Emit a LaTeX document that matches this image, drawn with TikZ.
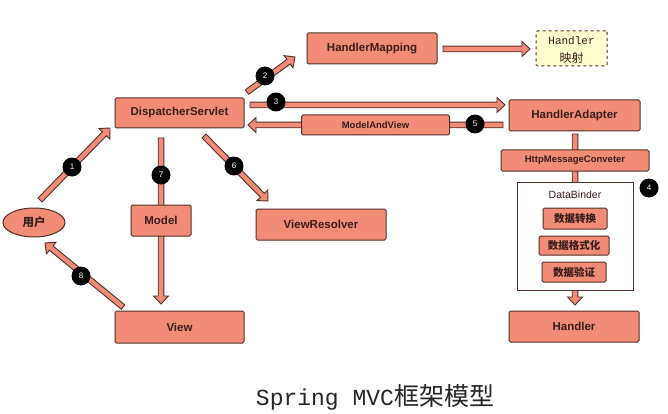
\documentclass[tikz,border=0pt]{standalone}
\usepackage{fontspec}
\setmainfont{Liberation Sans}
\newfontfamily\cjk{Noto Sans CJK SC}
\newfontfamily\monof{Liberation Mono}
\usetikzlibrary{calc,shapes.geometric}
\definecolor{boxfill}{RGB}{243,140,118}
\definecolor{edge}{RGB}{80,48,40}
\definecolor{txt}{RGB}{55,30,28}
\definecolor{hfill}{RGB}{255,255,208}
\def\arrw{2.8pt}
\def\arrW{7.5pt}
\def\arrl{8pt}
\tikzset{
  box/.style={draw=edge, line width=1pt, fill=boxfill, rounded corners=1.5pt, text=txt,
    inner sep=0pt, font=\bfseries\fontsize{11.5}{13}\selectfont},
  smallbox/.style={box, font=\bfseries\fontsize{9.5}{11}\selectfont},
  cjkbox/.style={box, font=\cjk\bfseries\fontsize{10.5}{12}\selectfont},
  num/.style={circle, fill=black, text=white, minimum size=19pt, inner sep=0pt,
    font=\fontsize{8}{9}\selectfont},
  blk/.style={draw=edge, line width=0.9pt, fill=boxfill, line join=miter,
    to path={let \p1=(\tikztostart), \p2=(\tikztotarget),
      \n1={atan2(\y2-\y1,\x2-\x1)} in
      ($(\p1)+(\n1+90:\arrw)$)
      -- ($(\p2)+(\n1+180:\arrl)+(\n1+90:\arrw)$)
      -- ($(\p2)+(\n1+180:\arrl)+(\n1+90:\arrW)$)
      -- (\p2)
      -- ($(\p2)+(\n1+180:\arrl)+(\n1-90:\arrW)$)
      -- ($(\p2)+(\n1+180:\arrl)+(\n1-90:\arrw)$)
      -- ($(\p1)+(\n1-90:\arrw)$) -- cycle}}
}
\begin{document}
\begin{tikzpicture}[x=1pt,y=-1pt]
\useasboundingbox[fill=white] (0,0) rectangle (668,414);

% arrow end points
\coordinate (a1s) at (40,200);   \coordinate (a1e) at (110,128);
\coordinate (a2s) at (247,92);   \coordinate (a2e) at (295,57);
\coordinate (a3s) at (250,105);  \coordinate (a3e) at (505,105);
\coordinate (a5s) at (503,125);  \coordinate (a5e) at (248,125);
\coordinate (ams) at (443,49);   \coordinate (ame) at (530,49);
\coordinate (a7s) at (161,138);  \coordinate (a7e) at (161,304);
\coordinate (a6s) at (204,136);  \coordinate (a6e) at (268,201);
\coordinate (a8s) at (123,307);  \coordinate (a8e) at (45,243);
\coordinate (a4s) at (575,134);  \coordinate (a4e) at (575,305);

% arrows (drawn first, boxes cover them)
\draw[blk] (a1s) to (a1e);
\draw[blk] (a2s) to (a2e);
\draw[blk] (a3s) to (a3e);
\draw[blk] (a5s) to (a5e);
\draw[blk] (ams) to (ame);
\draw[blk] (a7s) to (a7e);
\draw[blk] (a6s) to (a6e);
\draw[blk] (a8s) to (a8e);
\draw[blk] (a4s) to (a4e);

% nodes
\node[box, minimum width=129pt, minimum height=30pt] (ds) at (179.5,113) {DispatcherServlet};
\node[box, minimum width=130pt, minimum height=31pt] (hm) at (372,48.5) {HandlerMapping};
\node[draw=edge, line width=1pt, dashed, fill=hfill, rounded corners=1.5pt,
      minimum width=71pt, minimum height=35pt, inner sep=0pt] (hmap) at (571.5,48.5) {};
\node[text=txt, font=\monof\fontsize{11}{13}\selectfont, inner sep=0pt] (hmap1) at (571.5,41) {Handler};
\node[text=txt, font=\cjk\fontsize{12}{14}\selectfont, inner sep=0pt] (hmap2) at (571.5,57.5) {映射};
\node[box, minimum width=131pt, minimum height=31pt] (ha) at (574.5,115.5) {HandlerAdapter};
\node[smallbox, minimum width=148pt, minimum height=20pt] (mav) at (375.5,125) {ModelAndView};
\node[smallbox, minimum width=148pt, minimum height=21pt] (hmc) at (575,160.5) {HttpMessageConveter};
\node[draw=edge, line width=1pt, fill=white, minimum width=116pt, minimum height=108pt,
      inner sep=0pt] (db) at (575,236) {};
\node[text=txt, font=\fontsize{10.5}{12}\selectfont] (dbl) at (575,195) {DataBinder};
\node[cjkbox, minimum width=64pt, minimum height=21pt] (c1) at (575,218.5) {数据转换};
\node[cjkbox, minimum width=70pt, minimum height=19pt] (c2) at (574,245.5) {数据格式化};
\node[cjkbox, minimum width=64pt, minimum height=20pt] (c3) at (574,272) {数据验证};
\node[box, minimum width=130pt, minimum height=31pt] (hd) at (574,326.5) {Handler};
\node[ellipse, draw=edge, line width=1pt, fill=boxfill, minimum width=62pt, minimum height=29pt,
      inner sep=0pt, text=txt, font=\cjk\bfseries\fontsize{11.5}{13}\selectfont] (user) at (34,222.5) {用户};
\node[box, minimum width=60pt, minimum height=31pt] (model) at (161,220.5) {Model};
\node[box, minimum width=130pt, minimum height=31pt] (vr) at (321,224.5) {ViewResolver};
\node[box, minimum width=129pt, minimum height=32pt] (view) at (179.5,327) {View};

% number markers
\node[num] (n1) at (72,167) {1};
\node[num] (n2) at (265,76) {2};
\node[num] (n3) at (276,102) {3};
\node[num] (n4) at (649,188) {4};
\node[num] (n5) at (475,124) {5};
\node[num] (n6) at (234,166) {6};
\node[num] (n7) at (161,175) {7};
\node[num] (n8) at (81,276) {8};

% title
\node[text=black!85, anchor=base] (title) at (375,405)
  {\monof\fontsize{23}{26}\selectfont Spring MVC{\cjk\fontsize{25}{26}\selectfont 框架模型}};
\end{tikzpicture}
\end{document}
